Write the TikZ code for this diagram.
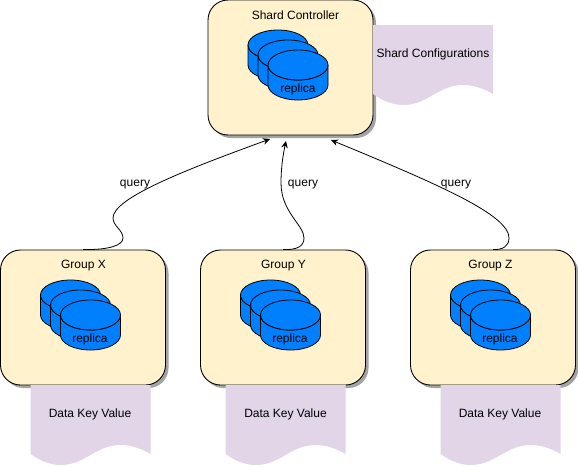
\documentclass[tikz,border=0pt]{standalone}
\usepackage{fontspec}
\setmainfont{Liberation Sans}
\usetikzlibrary{shadows,arrows.meta}
\definecolor{boxfill}{HTML}{FFF2CC}
\definecolor{docfill}{HTML}{E1D5E7}
\definecolor{cylfill}{HTML}{007FFF}
\tikzset{
  server/.style={draw=black,line width=0.9pt,fill=boxfill,rounded corners=20pt,
    minimum width=165pt,minimum height=135pt,inner sep=0pt,
    drop shadow={shadow xshift=3pt,shadow yshift=-3pt,fill=black!45,opacity=0.8}},
  lbl/.style={font=\fontsize{12}{14}\selectfont,inner sep=0pt,text=black},
  doc/.style={fill=docfill,draw=none},
  cyl/.style={draw=black,line width=0.8pt,fill=cylfill},
  conn/.style={draw=black,line width=0.8pt,-{Stealth[length=7pt,width=6.5pt]}},
  pics/cylinder/.style={code={
    \path[cyl] (0,15) -- (0,35) arc[start angle=180,end angle=0,x radius=30,y radius=15]
       -- (60,15) arc[start angle=0,end angle=180,x radius=30,y radius=15] -- cycle;
    \path[cyl] (30,15) ellipse[x radius=30,y radius=15];
  }},
  pics/wavedoc/.style={code={
    \path[doc] (0,0) -- (120,0) -- (120,69)
      .. controls (110,63) and (100,60) .. (90,60)
      .. controls (65,60) and (55,80) .. (30,80)
      .. controls (20,80) and (10,76) .. (0,69) -- cycle;
  }},
  pics/replicas/.style={code={
    \pic at (0,0) {cylinder};
    \pic at (10,10) {cylinder};
    \pic at (20,20) {cylinder};
  }}
}
\begin{document}
\begin{tikzpicture}[x=1pt,y=-1pt]
\useasboundingbox (0,0) rectangle (578,466);
% boxes
\node[server] (sc) at (290.5,67.5) {};
\node[server] (gx) at (83,317.5) {};
\node[server] (gy) at (283,317.5) {};
\node[server] (gz) at (493,317.5) {};
% documents
\pic at (373,25) {wavedoc};
\pic at (30.5,385) {wavedoc};
\pic at (225.5,385) {wavedoc};
\pic at (440.5,385) {wavedoc};
% replicas
\pic at (248,30) {replicas};
\pic at (40.5,280) {replicas};
\pic at (240.5,280) {replicas};
\pic at (450.5,280) {replicas};
% labels
\node[lbl] (tsc) at (295.5,15.5) {Shard Controller};
\node[lbl] (tgx) at (83.5,265.5) {Group X};
\node[lbl] (tgy) at (283.5,265.5) {Group Y};
\node[lbl] (tgz) at (490.5,265.5) {Group Z};
\node[lbl] (rsc) at (298,89.5) {replica};
\node[lbl] (rgx) at (90,339.5) {replica};
\node[lbl] (rgy) at (290,339.5) {replica};
\node[lbl] (rgz) at (500,339.5) {replica};
\node[lbl] (dcfg) at (433,54) {Shard Configurations};
\node[lbl] (dgx) at (90,414) {Data Key Value};
\node[lbl] (dgy) at (285.5,414) {Data Key Value};
\node[lbl] (dgz) at (500,414) {Data Key Value};
% connector ends
\coordinate (ex) at (270,139);
\coordinate (ey) at (286,141);
\coordinate (ez) at (331,140);
% connectors
\draw[conn] (gx.north) .. controls (110,250) and (123,245) .. (123,238)
  .. controls (123,230) and (113,226) .. (113,218)
  .. controls (113,198) and (185,170) .. (ex);
\draw[conn] (gy.north) .. controls (296,250) and (304,247) .. (304,238)
  .. controls (304,225) and (281,212) .. (281,183)
  .. controls (281,168) and (283,155) .. (ey);
\draw[conn] (gz.north) .. controls (503,250) and (509,246) .. (509,238)
  .. controls (509,215) and (440,185) .. (ez);
\node[lbl] (qx) at (135,185) {query};
\node[lbl] (qy) at (303,185) {query};
\node[lbl] (qz) at (456,185) {query};
\end{tikzpicture}
\end{document}
